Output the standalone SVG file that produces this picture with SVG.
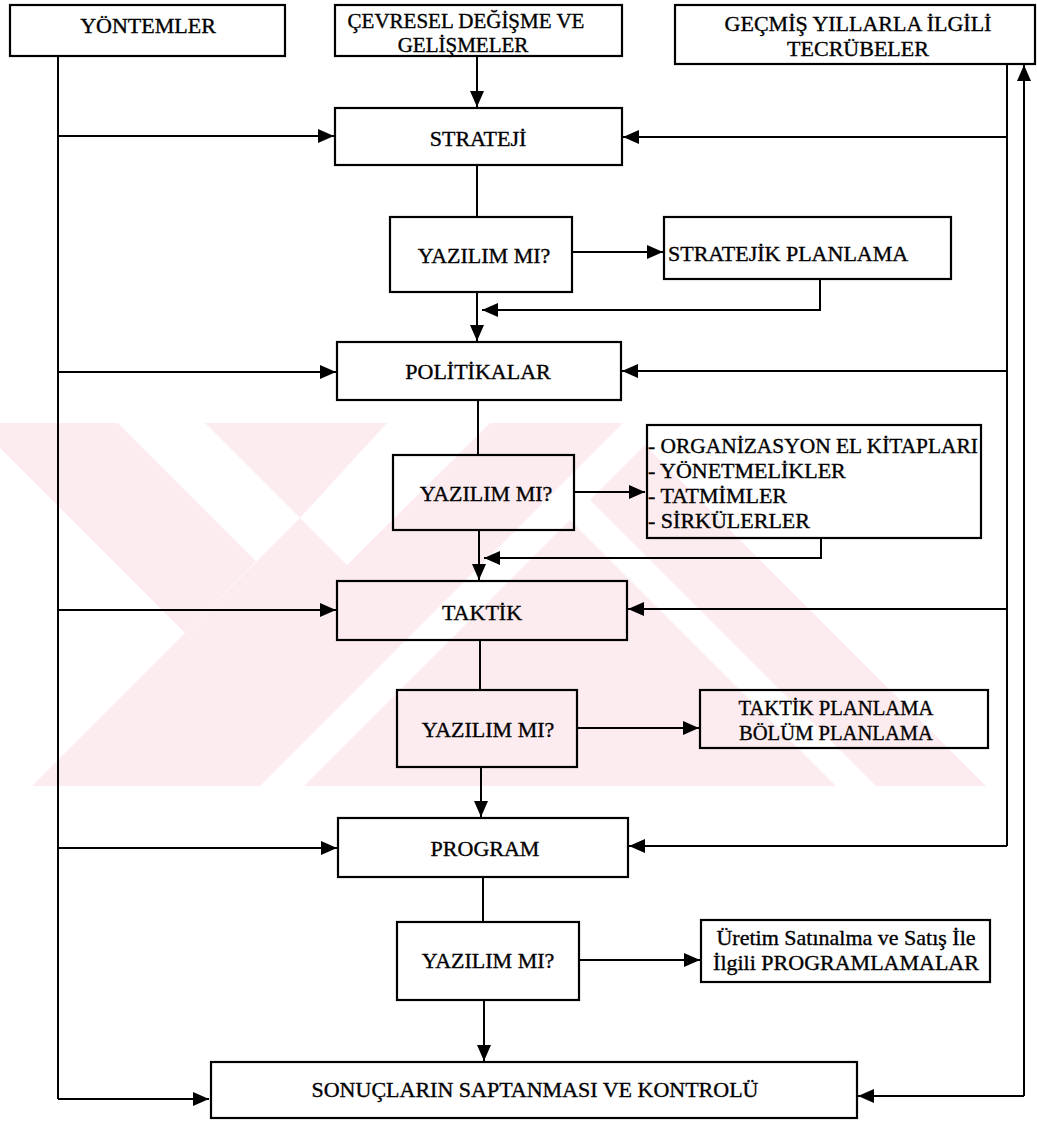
<svg xmlns="http://www.w3.org/2000/svg" width="1037" height="1121" viewBox="0 0 1037 1121">
<style>
.wm{fill:#fdecef;stroke:none}
.box{fill:none;stroke:#000;stroke-width:2.2}
.c{fill:none;stroke:#000;stroke-width:2}
.ca{fill:none;stroke:#000;stroke-width:2;marker-end:url(#ah)}
.t{font-family:"Liberation Serif","Times New Roman",serif;font-size:22px;fill:#000;stroke:#000;stroke-width:0.35}
.sm{font-size:21px}
.m{text-anchor:middle}
.s{text-anchor:start}
</style>
<defs>
<marker id="ah" markerUnits="userSpaceOnUse" markerWidth="16" markerHeight="14" refX="16" refY="7" orient="auto">
<path d="M0,0 L16,7 L0,14 z" fill="#000"/>
</marker>
</defs>
<rect x="0" y="0" width="1037" height="1121" fill="#fff"/>
<g id="watermark">
<polygon class="wm" points="0,423 118,423 256,561 185,633 0,448"/>
<polygon class="wm" points="205,423 387,423 300,518"/>
<polygon class="wm" points="32,786 300,518 347,565 490,423 623,423 260,786"/>
<polygon class="wm" points="570,520 836,786 304,786"/>
<polygon class="wm" points="590,500 645,445 986,786 876,786"/>
</g>
<g id="connectors">
<path class="c" d="M58,56 V1099"/>
<path class="ca" d="M58,1099 H209"/>
<path class="ca" d="M58,136 H334"/>
<path class="ca" d="M58,372 H336"/>
<path class="ca" d="M58,610 H336"/>
<path class="ca" d="M58,848 H337"/>
<path class="c" d="M1007,64 V846"/>
<path class="ca" d="M1007,137 H623"/>
<path class="ca" d="M1007,371 H622"/>
<path class="ca" d="M1007,609 H628"/>
<path class="ca" d="M1007,846 H629"/>
<path class="ca" d="M1024,1096 V65"/>
<path class="ca" d="M1024,1096 H858"/>
<path class="ca" d="M477,56 V107"/>
<path class="c" d="M477,165 V217"/>
<path class="ca" d="M572,252 H663"/>
<path class="ca" d="M820,279 V310 H482"/>
<path class="ca" d="M477,292 V341"/>
<path class="c" d="M478,400 V455"/>
<path class="ca" d="M574,492 H645"/>
<path class="ca" d="M821,538 V558 H484"/>
<path class="ca" d="M479,530 V580"/>
<path class="c" d="M480,640 V690"/>
<path class="ca" d="M577,728 H699"/>
<path class="ca" d="M481,767 V817"/>
<path class="c" d="M483,877 V922"/>
<path class="ca" d="M579,960 H700"/>
<path class="ca" d="M484,1000 V1061"/>
</g>
<g id="yontemler">
<rect class="box" x="10" y="5" width="275" height="51"/>
<text class="t m" x="148" y="33">YÖNTEMLER</text>
</g>
<g id="cevresel">
<rect class="box" x="335" y="5" width="287" height="51"/>
<text class="t sm m" x="466" y="28">ÇEVRESEL DEĞİŞME VE</text>
<text class="t sm m" x="463" y="52">GELİŞMELER</text>
</g>
<g id="gecmis">
<rect class="box" x="675" y="5" width="360" height="59"/>
<text class="t m" x="858" y="31">GEÇMİŞ YILLARLA İLGİLİ</text>
<text class="t m" x="858" y="56">TECRÜBELER</text>
</g>
<g id="strateji">
<rect class="box" x="335" y="108" width="287" height="57"/>
<text class="t m" x="478" y="146">STRATEJİ</text>
</g>
<g id="yazilim1">
<rect class="box" x="390" y="217" width="182" height="75"/>
<text class="t m" x="484" y="263">YAZILIM MI?</text>
</g>
<g id="stratejik-planlama">
<rect class="box" x="664" y="217" width="287" height="62"/>
<text class="t s" x="668" y="261">STRATEJİK PLANLAMA</text>
</g>
<g id="politikalar">
<rect class="box" x="337" y="342" width="284" height="58"/>
<text class="t m" x="478" y="379">POLİTİKALAR</text>
</g>
<g id="yazilim2">
<rect class="box" x="393" y="455" width="181" height="75"/>
<text class="t m" x="486" y="501">YAZILIM MI?</text>
</g>
<g id="organizasyon">
<rect class="box" x="647" y="425" width="334" height="113"/>
<text class="t s" x="648" y="453" textLength="330" lengthAdjust="spacingAndGlyphs">- ORGANİZASYON EL KİTAPLARI</text>
<text class="t s" x="648" y="478">- YÖNETMELİKLER</text>
<text class="t s" x="648" y="503">- TATMİMLER</text>
<text class="t s" x="648" y="528">- SİRKÜLERLER</text>
</g>
<g id="taktik">
<rect class="box" x="337" y="581" width="290" height="59"/>
<text class="t m" x="482" y="620">TAKTİK</text>
</g>
<g id="yazilim3">
<rect class="box" x="397" y="690" width="180" height="77"/>
<text class="t m" x="488" y="737">YAZILIM MI?</text>
</g>
<g id="taktik-planlama">
<rect class="box" x="700" y="690" width="288" height="58"/>
<text class="t m" x="836" y="715" textLength="195" lengthAdjust="spacingAndGlyphs">TAKTİK PLANLAMA</text>
<text class="t m" x="836" y="740" textLength="194" lengthAdjust="spacingAndGlyphs">BÖLÜM PLANLAMA</text>
</g>
<g id="program">
<rect class="box" x="338" y="818" width="290" height="59"/>
<text class="t m" x="485" y="856">PROGRAM</text>
</g>
<g id="yazilim4">
<rect class="box" x="397" y="922" width="182" height="78"/>
<text class="t m" x="488" y="968">YAZILIM MI?</text>
</g>
<g id="uretim">
<rect class="box" x="701" y="920" width="289" height="62"/>
<text class="t m" x="846" y="945">Üretim Satınalma ve Satış İle</text>
<text class="t m" x="846" y="970">İlgili PROGRAMLAMALAR</text>
</g>
<g id="sonuc">
<rect class="box" x="211" y="1062" width="646" height="56"/>
<text class="t m" x="535" y="1097">SONUÇLARIN SAPTANMASI VE KONTROLÜ</text>
</g>
</svg>
